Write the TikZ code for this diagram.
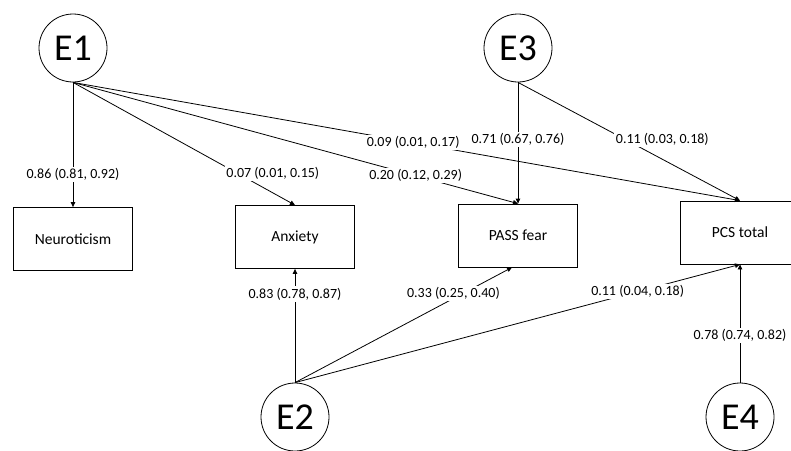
\documentclass[tikz,border=0pt]{standalone}
\usepackage{fontspec}
\setmainfont{Carlito}
\usetikzlibrary{shapes.geometric, arrows.meta, positioning}

\begin{document}
\begin{tikzpicture}[
    x=1pt, y=-1pt,
    line width=0.8pt,
    err/.style={circle, draw, minimum size=68pt, inner sep=0pt, font=\fontsize{38}{40}\selectfont},
    block/.style={rectangle, draw, minimum width=119pt, minimum height=63pt, font=\fontsize{15.5}{18}\selectfont},
    coef/.style={fill=white, inner sep=1.5pt, font=\fontsize{14}{16}\selectfont},
    arrow/.style={-{Triangle[length=5pt, width=4.5pt]}}
]
    \useasboundingbox (0,0) rectangle (791,450);
    \clip (0,0) rectangle (791,450);

    \node (e1) [err] at (73,48) {E1};
    \node (e3) [err] at (518,48) {E3};
    \node (e2) [err] at (295,417) {E2};
    \node (e4) [err] at (740,417) {E4};

    \node (neuro) [block] at (73,239) {Neuroticism};
    \node (anx) [block] at (295,237) {Anxiety};
    \node (pass) [block] at (518,235.5) {PASS fear};
    \node (pcs) [block] at (740,232.5) {PCS total};

    \draw [arrow] (e1.south) -- node[coef, pos=0.74] {0.86 (0.81, 0.92)} (neuro.north);
    \draw [arrow] (e1.south) -- node[coef, pos=0.9, yshift=19pt] {0.07 (0.01, 0.15)} (anx.north);
    \draw [arrow] (e1.south) -- node[coef, pos=0.77] {0.20 (0.12, 0.29)} (pass.north);
    \draw [arrow] (e1.south) -- node[coef, pos=0.51] {0.09 (0.01, 0.17)} (pcs.north);

    \draw [arrow] (e3.south) -- node[coef, pos=0.47] {0.71 (0.67, 0.76)} (pass.north);
    \draw [arrow] (e3.south) -- node[coef, pos=0.65, yshift=20pt] {0.11 (0.03, 0.18)} (pcs.north);

    \draw [arrow] (e2.north) -- node[coef, pos=0.78] {0.83 (0.78, 0.87)} (anx.south);
    \draw [arrow] (e2.north) -- node[coef, pos=0.73, yshift=5pt] {0.33 (0.25, 0.40)} ([xshift=-6pt]pass.south);
    \draw [arrow] (e2.north) -- node[coef, pos=0.77] {0.11 (0.04, 0.18)} (pcs.south);

    \draw [arrow] (e4.north) -- node[coef, pos=0.4] {0.78 (0.74, 0.82)} (pcs.south);
\end{tikzpicture}
\end{document}
